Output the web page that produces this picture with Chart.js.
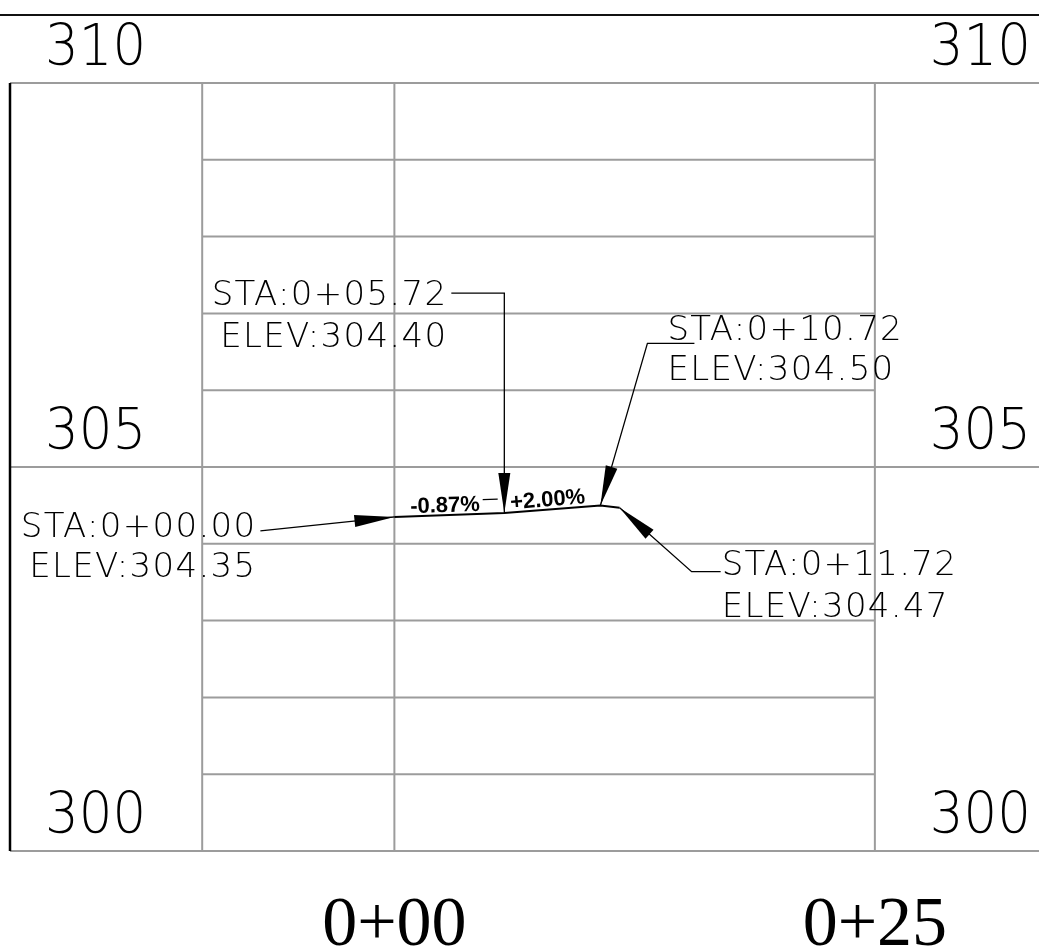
<!DOCTYPE html>
<html>
<head>
<meta charset="utf-8">
<title>Profile</title>
<script src="https://cdn.jsdelivr.net/npm/chart.js@4.4.1/dist/chart.umd.min.js"></script>
<style>
  html, body { margin: 0; padding: 0; background: #fff; }
  #wrap { position: relative; width: 1039px; height: 952px; overflow: hidden; }
  #topRule { position: absolute; left: 0; right: 0; top: 14px; height: 2px; background: #111; }
</style>
</head>
<body>
<div id="wrap">
  <canvas id="profile"></canvas>
  <div id="topRule"></div>
</div>
<script>
// Profile points (station from 0+00, elevation)
const stations = [0, 5.72, 10.72, 11.72];
const elevations = [304.35, 304.40, 304.50, 304.47];
const gradeLabels = ['-0.87%', '+2.00%'];

// Callout text at each point
const staLabels = ['STA:0+00.00', 'STA:0+05.72', 'STA:0+10.72', 'STA:0+11.72'];
const elevLabels = ['ELEV:304.35', 'ELEV:304.40', 'ELEV:304.50', 'ELEV:304.47'];

// Grid and axis labels
const elevTicks = [300, 305, 310];
const elevMinorTicks = [301, 302, 303, 304, 306, 307, 308, 309];
const gridStations = [-10, 0, 25];
const stationTicks = [0, 25];
const stationTickLabels = ['0+00', '0+25'];

const GRID = '#9c9c9c';
const CAD_FONT = '"DejaVu Sans", "Liberation Sans", sans-serif';

// Callout layout: pixel offsets from the point, side = where the text sits
const calloutLayout = [
    { align: 'right', tx: -138, sta: 20, elev: 60, leader: [[-134, 14]] },
    { align: 'right', tx: -57, sta: -208, elev: -166, leader: [[-53, -220], [0, -220]] },
    { align: 'left', tx: 67, sta: -165, elev: -125, leader: [[94, -162], [47, -162]] },
    { align: 'left', tx: 102, sta: 67, elev: 109, leader: [[101, 64], [72, 64]] }
];

function line(ctx, x1, y1, x2, y2) {
    ctx.beginPath();
    ctx.moveTo(x1, y1);
    ctx.lineTo(x2, y2);
    ctx.stroke();
}

function scaledText(ctx, text, x, y, align, sx) {
    ctx.save();
    ctx.translate(x, y);
    ctx.scale(sx, 1);
    ctx.textAlign = align;
    ctx.fillText(text, 0, 0);
    ctx.restore();
}

function arrowHead(ctx, fromX, fromY, tipX, tipY) {
    const ang = Math.atan2(tipY - fromY, tipX - fromX);
    const len = 40, half = 6;
    const bx = tipX - Math.cos(ang) * len, by = tipY - Math.sin(ang) * len;
    ctx.beginPath();
    ctx.moveTo(tipX, tipY);
    ctx.lineTo(bx + Math.sin(ang) * half, by - Math.cos(ang) * half);
    ctx.lineTo(bx - Math.sin(ang) * half, by + Math.cos(ang) * half);
    ctx.closePath();
    ctx.fill();
}

const sheetPlugin = {
    id: 'profileSheet',
    beforeDatasetsDraw(chart) {
        const { ctx, chartArea: a, scales: { x, y } } = chart;
        const gx0 = x.getPixelForValue(gridStations[0]);
        const gx1 = x.getPixelForValue(gridStations[gridStations.length - 1]);
        ctx.save();
        ctx.strokeStyle = GRID;
        ctx.lineWidth = 2;
        elevMinorTicks.forEach(v => line(ctx, gx0, y.getPixelForValue(v), gx1, y.getPixelForValue(v)));
        gridStations.forEach(s => {
            const px = x.getPixelForValue(s);
            line(ctx, px, a.top, px, a.bottom);
        });
        elevTicks.forEach(v => line(ctx, a.left, y.getPixelForValue(v), a.right, y.getPixelForValue(v)));

        // left border
        ctx.strokeStyle = '#000';
        ctx.lineWidth = 2.5;
        line(ctx, a.left, a.top, a.left, a.bottom);

        // elevation labels both sides
        ctx.fillStyle = '#000';
        ctx.font = '200 57px ' + CAD_FONT;
        ctx.textBaseline = 'alphabetic';
        elevTicks.forEach(v => {
            const py = y.getPixelForValue(v) - 18;
            scaledText(ctx, String(v), gx0 - 56, py, 'right', 0.93);
            scaledText(ctx, String(v), gx1 + 55, py, 'left', 0.93);
        });

        // station labels under the grid
        ctx.font = '70px "Liberation Serif", "DejaVu Serif", serif';
        stationTicks.forEach((s, i) => {
            ctx.textAlign = 'center';
            ctx.fillText(stationTickLabels[i], x.getPixelForValue(s), y.getPixelForValue(300) + 94);
        });
        ctx.restore();
    },
    afterDatasetsDraw(chart) {
        const { ctx, scales: { x, y } } = chart;
        const pts = stations.map((s, i) => [x.getPixelForValue(s), y.getPixelForValue(elevations[i])]);
        ctx.save();
        ctx.fillStyle = '#000';
        ctx.strokeStyle = '#000';

        // grade labels along each segment
        ctx.font = 'bold 22px "Liberation Sans", Arial, sans-serif';
        gradeLabels.forEach((g, i) => {
            const [x1, y1] = pts[i], [x2, y2] = pts[i + 1];
            const ang = Math.atan2(y2 - y1, x2 - x1);
            ctx.save();
            ctx.translate((x1 + x2) / 2 - 4, (y1 + y2) / 2);
            ctx.rotate(ang);
            ctx.textAlign = 'center';
            ctx.fillText(g, 0, -3);
            if (i === 0) {
                const w = ctx.measureText(g).width / 2;
                ctx.lineWidth = 1.2;
                line(ctx, w + 3, -14, w + 18, -14);
            }
            ctx.restore();
        });

        // callouts with leaders and arrows
        ctx.font = '200 34px ' + CAD_FONT;
        ctx.letterSpacing = '1.3px';
        ctx.lineWidth = 1.3;
        pts.forEach(([px, py], i) => {
            const c = calloutLayout[i];
            ctx.textAlign = c.align;
            ctx.fillText(staLabels[i], px + c.tx, py + c.sta);
            ctx.fillText(elevLabels[i], px + c.tx, py + c.elev);

            const path = c.leader.map(([dx, dy]) => [px + dx, py + dy]);
            ctx.beginPath();
            ctx.moveTo(path[0][0], path[0][1]);
            path.slice(1).forEach(p => ctx.lineTo(p[0], p[1]));
            ctx.lineTo(px, py);
            ctx.stroke();
            const last = path[path.length - 1];
            arrowHead(ctx, last[0], last[1], px, py);
        });
        ctx.restore();
    }
};

new Chart(document.getElementById('profile'), {
    type: 'line',
    data: {
        datasets: [{
            data: stations.map((s, i) => ({ x: s, y: elevations[i] })),
            borderColor: '#000',
            borderWidth: 2,
            pointRadius: 0,
            tension: 0,
            fill: false
        }]
    },
    options: {
        responsive: true,
        maintainAspectRatio: false,
        animation: false,
        layout: { padding: { left: 10, top: 83, right: 0, bottom: 101 } },
        scales: {
            x: { type: 'linear', min: -20, max: 33.54, display: false },
            y: { type: 'linear', min: 300, max: 310, display: false }
        },
        plugins: { legend: { display: false }, tooltip: { enabled: false } }
    },
    plugins: [sheetPlugin]
});
</script>
</body>
</html>
